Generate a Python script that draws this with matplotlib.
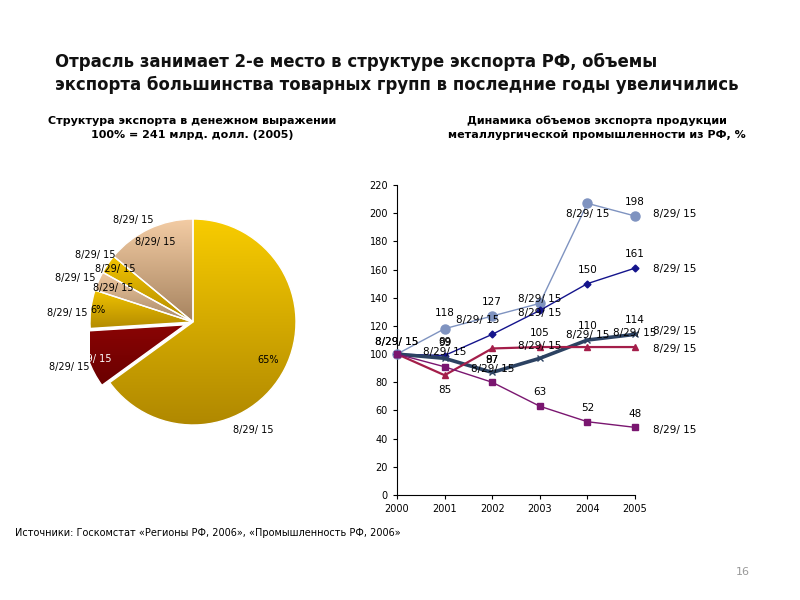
import numpy as np
import matplotlib
matplotlib.use("Agg")
import matplotlib.pyplot as plt
from matplotlib.colors import LinearSegmentedColormap

# ---------------- data ----------------
pie_shares = [65, 9, 6, 3, 3, 14]
pie_inner_labels = ["65%", "8/29/ 15", "6%", "8/29/ 15", "8/29/ 15", "8/29/ 15"]
pie_outer_labels = ["8/29/ 15"] * 6

years = [2000, 2001, 2002, 2003, 2004, 2005]
series_a = [100, 118, 127, 136, 207, 198]
series_b = [100, 99, 114, 131, 150, 161]
series_c = [100, 97, 87, 97, 110, 114]
series_d = [100, 85, 104, 105, 105, 105]
series_e = [100, 91, 80, 63, 52, 48]

labels_a = ["8/29/ 15", "118", "127", "8/29/ 15", "8/29/ 15", "198"]
labels_b = ["8/29/ 15", "99", "8/29/ 15", "8/29/ 15", "150", "161"]
labels_c = [None, "89", "87", "8/29/ 15", "110", "114"]
labels_d = [None, "85", "97", "105", "8/29/ 15", "8/29/ 15"]
labels_e = [None, "8/29/ 15", "8/29/ 15", "63", "52", "48"]
end_label = "8/29/ 15"

y_ticks = list(range(0, 221, 20))

# ---------------- style ----------------
# label offsets in pixels (dx, dy)
off_a = [(0, 12), (0, 16), (0, 14), (0, 4), (0, -11), (0, 14)]
off_b = [(0, 12), (0, 13), (-15, 14), (0, -3), (0, 14), (0, 14)]
off_c = [(0, 0), (0, 16), (0, 12), (0, 12), (0, 14), (0, 14)]
off_d = [(0, 0), (0, -15), (0, -12), (0, 14), (0, 12), (0, 14)]
off_e = [(0, 0), (0, 15), (0, 13), (0, 14), (0, 14), (0, 13)]
end_dy = [2, -1, 3, -2, -3]

fig = plt.figure(figsize=(8, 6), dpi=100)
fig.patch.set_facecolor("white")

# titles
fig.text(55 / 800, 1 - 62 / 600, "Отрасль занимает 2-е место в структуре экспорта РФ, объемы",
         fontsize=11.9, fontweight="bold", color="#111111", va="center", ha="left")
fig.text(55 / 800, 1 - 85 / 600, "экспорта большинства товарных групп в последние годы увеличились",
         fontsize=11.9, fontweight="bold", color="#111111", va="center", ha="left")
fig.text(192 / 800, 1 - 128 / 600, "Структура экспорта в денежном выражении\n100% = 241 млрд. долл. (2005)",
         fontsize=8, fontweight="bold", ha="center", va="center", linespacing=1.45)
fig.text(597 / 800, 1 - 128 / 600, "Динамика объемов экспорта продукции\nметаллургической промышленности из РФ, %",
         fontsize=8, fontweight="bold", ha="center", va="center", linespacing=1.45)
fig.text(15 / 800, 1 - 533 / 600, "Источники: Госкомстат «Регионы РФ, 2006», «Промышленность РФ, 2006»",
         fontsize=7, ha="left", va="center")
fig.text(743 / 800, 1 - 572 / 600, "16", fontsize=8, color="#999999", ha="center", va="center")

# ---------------- pie ----------------
cx, cy, R = 193, 322, 103
axp = fig.add_axes([(cx - R) / 800, 1 - (cy + R) / 600, 2 * R / 800, 2 * R / 600])
grads = [("#F8CC00", "#B08800"), ("#8A0404", "#6A0000"), ("#F2C400", "#B48C00"),
         ("#F0C8A0", "#A88A68"), ("#F2C400", "#B48C00"), ("#F3CCA4", "#A6835F")]
explode = [0, 0.08, 0, 0, 0, 0]
wedges, _ = axp.pie(pie_shares, startangle=90, counterclock=False, explode=explode,
                    radius=1.0, colors=[g[1] for g in grads],
                    wedgeprops=dict(edgecolor="white", linewidth=1.0))
axp.set_aspect("equal")
axp.axis("off")
for w, (c1, c2) in zip(wedges, grads):
    ext = w.get_path().get_extents()
    cmap = LinearSegmentedColormap.from_list("g", [c2, c1])
    grad = np.linspace(0, 1, 256).reshape(-1, 1)
    im = axp.imshow(grad, cmap=cmap, origin="lower", aspect="auto",
                    extent=[ext.x0, ext.x1, ext.y0, ext.y1], zorder=w.get_zorder() + 0.1)
    im.set_clip_path(w)
    w.set_facecolor("none")
    w.set_zorder(w.get_zorder() + 0.2)
axp.set_xlim(-1.0, 1.0)
axp.set_ylim(-1.0, 1.0)

inner_r = [0.82, 0.97, 0.93, 0.84, 0.91, 0.86]
outer_r = [1.2, 1.28, 1.22, 1.22, 1.15, 1.15]
outer_da = [34, 0, -3, -3, 0, -5]
inner_col = ["black", "white", "black", "black", "black", "black"]
for w, il, ol, ri, ro, da, ic in zip(wedges, pie_inner_labels, pie_outer_labels,
                                     inner_r, outer_r, outer_da, inner_col):
    mid = np.deg2rad((w.theta1 + w.theta2) / 2)
    cxw, cyw = w.center
    axp.text(cxw + ri * np.cos(mid), cyw + ri * np.sin(mid), il, fontsize=7,
             ha="center", va="center", color=ic, zorder=10, clip_on=False)
    m2 = mid - np.deg2rad(da)
    axp.text(ro * np.cos(m2), ro * np.sin(m2), ol, fontsize=7,
             ha="center", va="center", color="black", zorder=10, clip_on=False)

# ---------------- line chart ----------------
axl = fig.add_axes([397 / 800, 1 - 495 / 600, 238 / 800, 310 / 600])
styles = [
    (series_a, labels_a, off_a, dict(color="#7F93C0", marker="o", ms=6.5, lw=1.0)),
    (series_b, labels_b, off_b, dict(color="#14148C", marker="D", ms=3.5, lw=1.0)),
    (series_c, labels_c, off_c, dict(color="#2C4262", marker="x", ms=4, lw=2.6, mew=1)),
    (series_d, labels_d, off_d, dict(color="#A41E4A", marker="^", ms=5, lw=1.6)),
    (series_e, labels_e, off_e, dict(color="#7A1670", marker="s", ms=4, lw=1.0)),
]
for vals, lbls, offs, st in styles:
    axl.plot(years, vals, clip_on=False, zorder=3, **st)
for vals, lbls, offs, st in styles:
    for x, v, t, (dx, dy) in zip(years, vals, lbls, offs):
        if t is None:
            continue
        axl.annotate(t, (x, v), xytext=(dx, dy), textcoords="offset pixels",
                     ha="center", va="center", fontsize=7.5, zorder=5)
for (vals, lbls, offs, st), edy in zip(styles, end_dy):
    axl.annotate(end_label, (years[-1], vals[-1]), xytext=(18, edy), textcoords="offset pixels",
                 ha="left", va="center", fontsize=7.5)

axl.set_xlim(2000, 2005)
axl.set_ylim(0, 220)
axl.set_yticks(y_ticks)
axl.set_xticks(years)
axl.set_xticklabels([str(y) for y in years])
axl.tick_params(labelsize=7, length=3, direction="out", width=0.8)
for s in ["top", "right"]:
    axl.spines[s].set_visible(False)
for s in ["left", "bottom"]:
    axl.spines[s].set_linewidth(0.8)

fig.savefig("out.png", dpi=100, facecolor="white")
